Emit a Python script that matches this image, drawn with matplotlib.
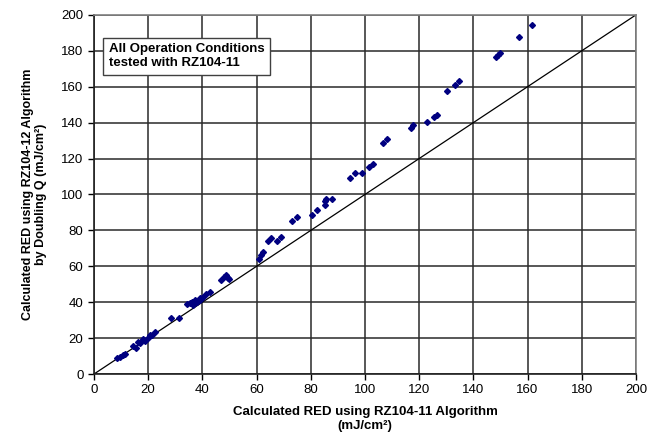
import matplotlib
matplotlib.use('Agg')
import matplotlib.pyplot as plt

plt.rcParams['font.family'] = ['Liberation Sans', 'DejaVu Sans']

# RED calculado con RZ104-11 (x) contra RZ104-12 con Q doble (y)
red_11 = [161.5, 156.8, 148.5, 149.2, 150.0, 134.6, 133.2, 130.1, 126.4, 125.5,
          123.0, 117.8, 116.9, 108.0, 106.5, 102.8, 101.5, 98.9, 96.4, 94.4,
          87.7, 85.8, 85.2, 85.4, 82.4, 80.6, 75.1, 73.2, 69.2, 67.7,
          65.3, 64.1, 62.5, 61.5, 61.0, 48.9, 49.9, 46.8, 43.0, 41.5,
          40.3, 39.2, 37.3, 36.6, 34.2, 31.3, 28.4, 22.5, 20.7, 18.2,
          16.3, 14.5, 10.8, 8.4, 9.5, 11.5, 15.5, 17.0, 19.0, 20.0,
          21.5, 35.5, 38.0, 39.0, 48.0, 49.5, 36.0]
red_12 = [194.5, 187.7, 176.4, 177.5, 178.7, 163.3, 161.1, 157.4, 144.5, 143.2,
          140.2, 138.7, 137.2, 131.1, 128.9, 116.8, 115.3, 111.7, 111.7, 108.9,
          97.6, 97.6, 96.3, 94.4, 91.2, 88.3, 87.5, 85.5, 76.4, 74.3,
          75.8, 74.3, 67.8, 66.1, 64.1, 55.3, 52.9, 52.5, 45.6, 44.7,
          42.8, 42.3, 41.3, 38.5, 39.1, 31.1, 31.1, 23.6, 21.8, 19.4,
          18.0, 15.6, 10.6, 8.8, 9.5, 11.0, 14.5, 17.5, 18.5, 20.0,
          22.0, 39.5, 40.0, 41.0, 54.0, 53.5, 39.9]
linea = [0, 200]
ticks = list(range(0, 201, 20))

fig = plt.figure(figsize=(6.57, 4.37), dpi=100)
ax = fig.add_axes([0.143, 0.144, 0.825, 0.822])

# linea 1:1
ax.plot(linea, linea, color='black', lw=0.9, zorder=2)
# puntos
ax.plot(red_11, red_12, linestyle='none', marker='D', markersize=3.0,
        color='#000080', zorder=3)

ax.set_xlim(0, 200)
ax.set_ylim(0, 200)
ax.set_xticks(ticks)
ax.set_yticks(ticks)
ax.grid(True, color='#2a2a2a', lw=1.1)
ax.set_axisbelow(True)
for s in ax.spines.values():
    s.set_color('#808080')
    s.set_linewidth(1.2)
ax.spines['left'].set_color('#202020')
ax.spines['bottom'].set_color('#202020')
ax.tick_params(direction='out', length=4, width=1, labelsize=9.5, colors='black')

ax.set_xlabel('Calculated RED using RZ104-11 Algorithm\n(mJ/cm²)',
              fontsize=9.5, fontweight='bold', labelpad=7)
ax.set_ylabel('Calculated RED using RZ104-12 Algorithm\nby Doubling Q (mJ/cm²)',
              fontsize=9, fontweight='bold', labelpad=10)

ax.text(5.5, 177, 'All Operation Conditions\ntested with RZ104-11     ',
        fontsize=9.5, fontweight='bold', va='center', ha='left', zorder=5,
        linespacing=1.15,
        bbox=dict(boxstyle='square,pad=0.45', fc='white', ec='#404040', lw=1))

fig.savefig('out.png', dpi=100)
